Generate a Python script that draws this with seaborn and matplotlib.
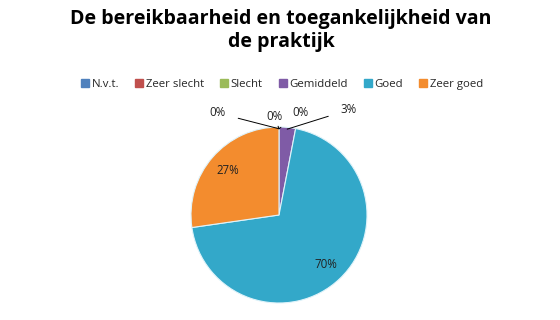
import matplotlib
matplotlib.use("Agg")
import matplotlib.pyplot as plt
import seaborn as sns
import numpy as np
from matplotlib.lines import Line2D

categories = ["N.v.t.", "Zeer slecht", "Slecht", "Gemiddeld", "Goed", "Zeer goed"]
counts = [0, 0, 0, 1, 23, 9]
colors = ["#4F81BD", "#C0504D", "#9BBB59", "#7F5BA6", "#33A8C9", "#F38C2E"]
title = "De bereikbaarheid en toegankelijkheid van\nde praktijk"

sns.set_theme(style="white")
plt.rcParams['font.family'] = ['Open Sans', 'DejaVu Sans']

fig = plt.figure(figsize=(5.6, 3.2), dpi=100)
fig.patch.set_facecolor("white")
cx, cy, r = 279, 215, 88
ax = fig.add_axes([(cx - r) / 560, (320 - cy - r) / 320, 2 * r / 560, 2 * r / 320])

total = sum(counts)
pcts = [100 * c / total for c in counts]

wedges, _ = ax.pie(counts, colors=colors, startangle=90, counterclock=False,
                   radius=1, wedgeprops=dict(edgecolor="#dff3fa", linewidth=0.8))
ax.set_xlim(-1, 1)
ax.set_ylim(-1, 1)
ax.set_aspect("equal")
ax.axis("off")

# label positions computed from wedge angles
small_offsets = {0: (-0.70, 0.16), 1: (-0.05, 0.12), 2: (0.24, 0.16), 3: (0.70, 0.20)}
for i, (w, p) in enumerate(zip(wedges, pcts)):
    mid = np.deg2rad((w.theta1 + w.theta2) / 2)
    ex, ey = np.cos(mid), np.sin(mid)
    lab = f"{p:.0f}%"
    if p >= 5:
        ax.text(0.77 * ex, 0.77 * ey, lab, ha="center", va="center", fontsize=8.3, color="#222222")
    else:
        dx, dy = small_offsets[i]
        tx, ty = ex + dx, ey + dy
        ax.annotate(lab, xy=(ex * 0.98, ey * 0.98), xytext=(tx, ty), fontsize=8.3,
                    ha="center", va="center", color="#222222",
                    arrowprops=dict(arrowstyle="-", color="black", lw=0.7,
                                    shrinkA=7, shrinkB=0), annotation_clip=False)

fig.text(0.502, 0.972, title, ha="center", va="top", fontsize=14.1, fontweight="bold",
         linespacing=1.2, color="black")

handles = [Line2D([0], [0], marker="s", linestyle="", markersize=5.5,
                  markerfacecolor=c, markeredgecolor=c) for c in colors]
fig.legend(handles, categories, loc="center", bbox_to_anchor=(0.503, 0.737), ncol=6,
           frameon=False, fontsize=8.2, handletextpad=0.2, columnspacing=1.35,
           handlelength=0.8)

fig.savefig("out.png", dpi=100, facecolor="white")
